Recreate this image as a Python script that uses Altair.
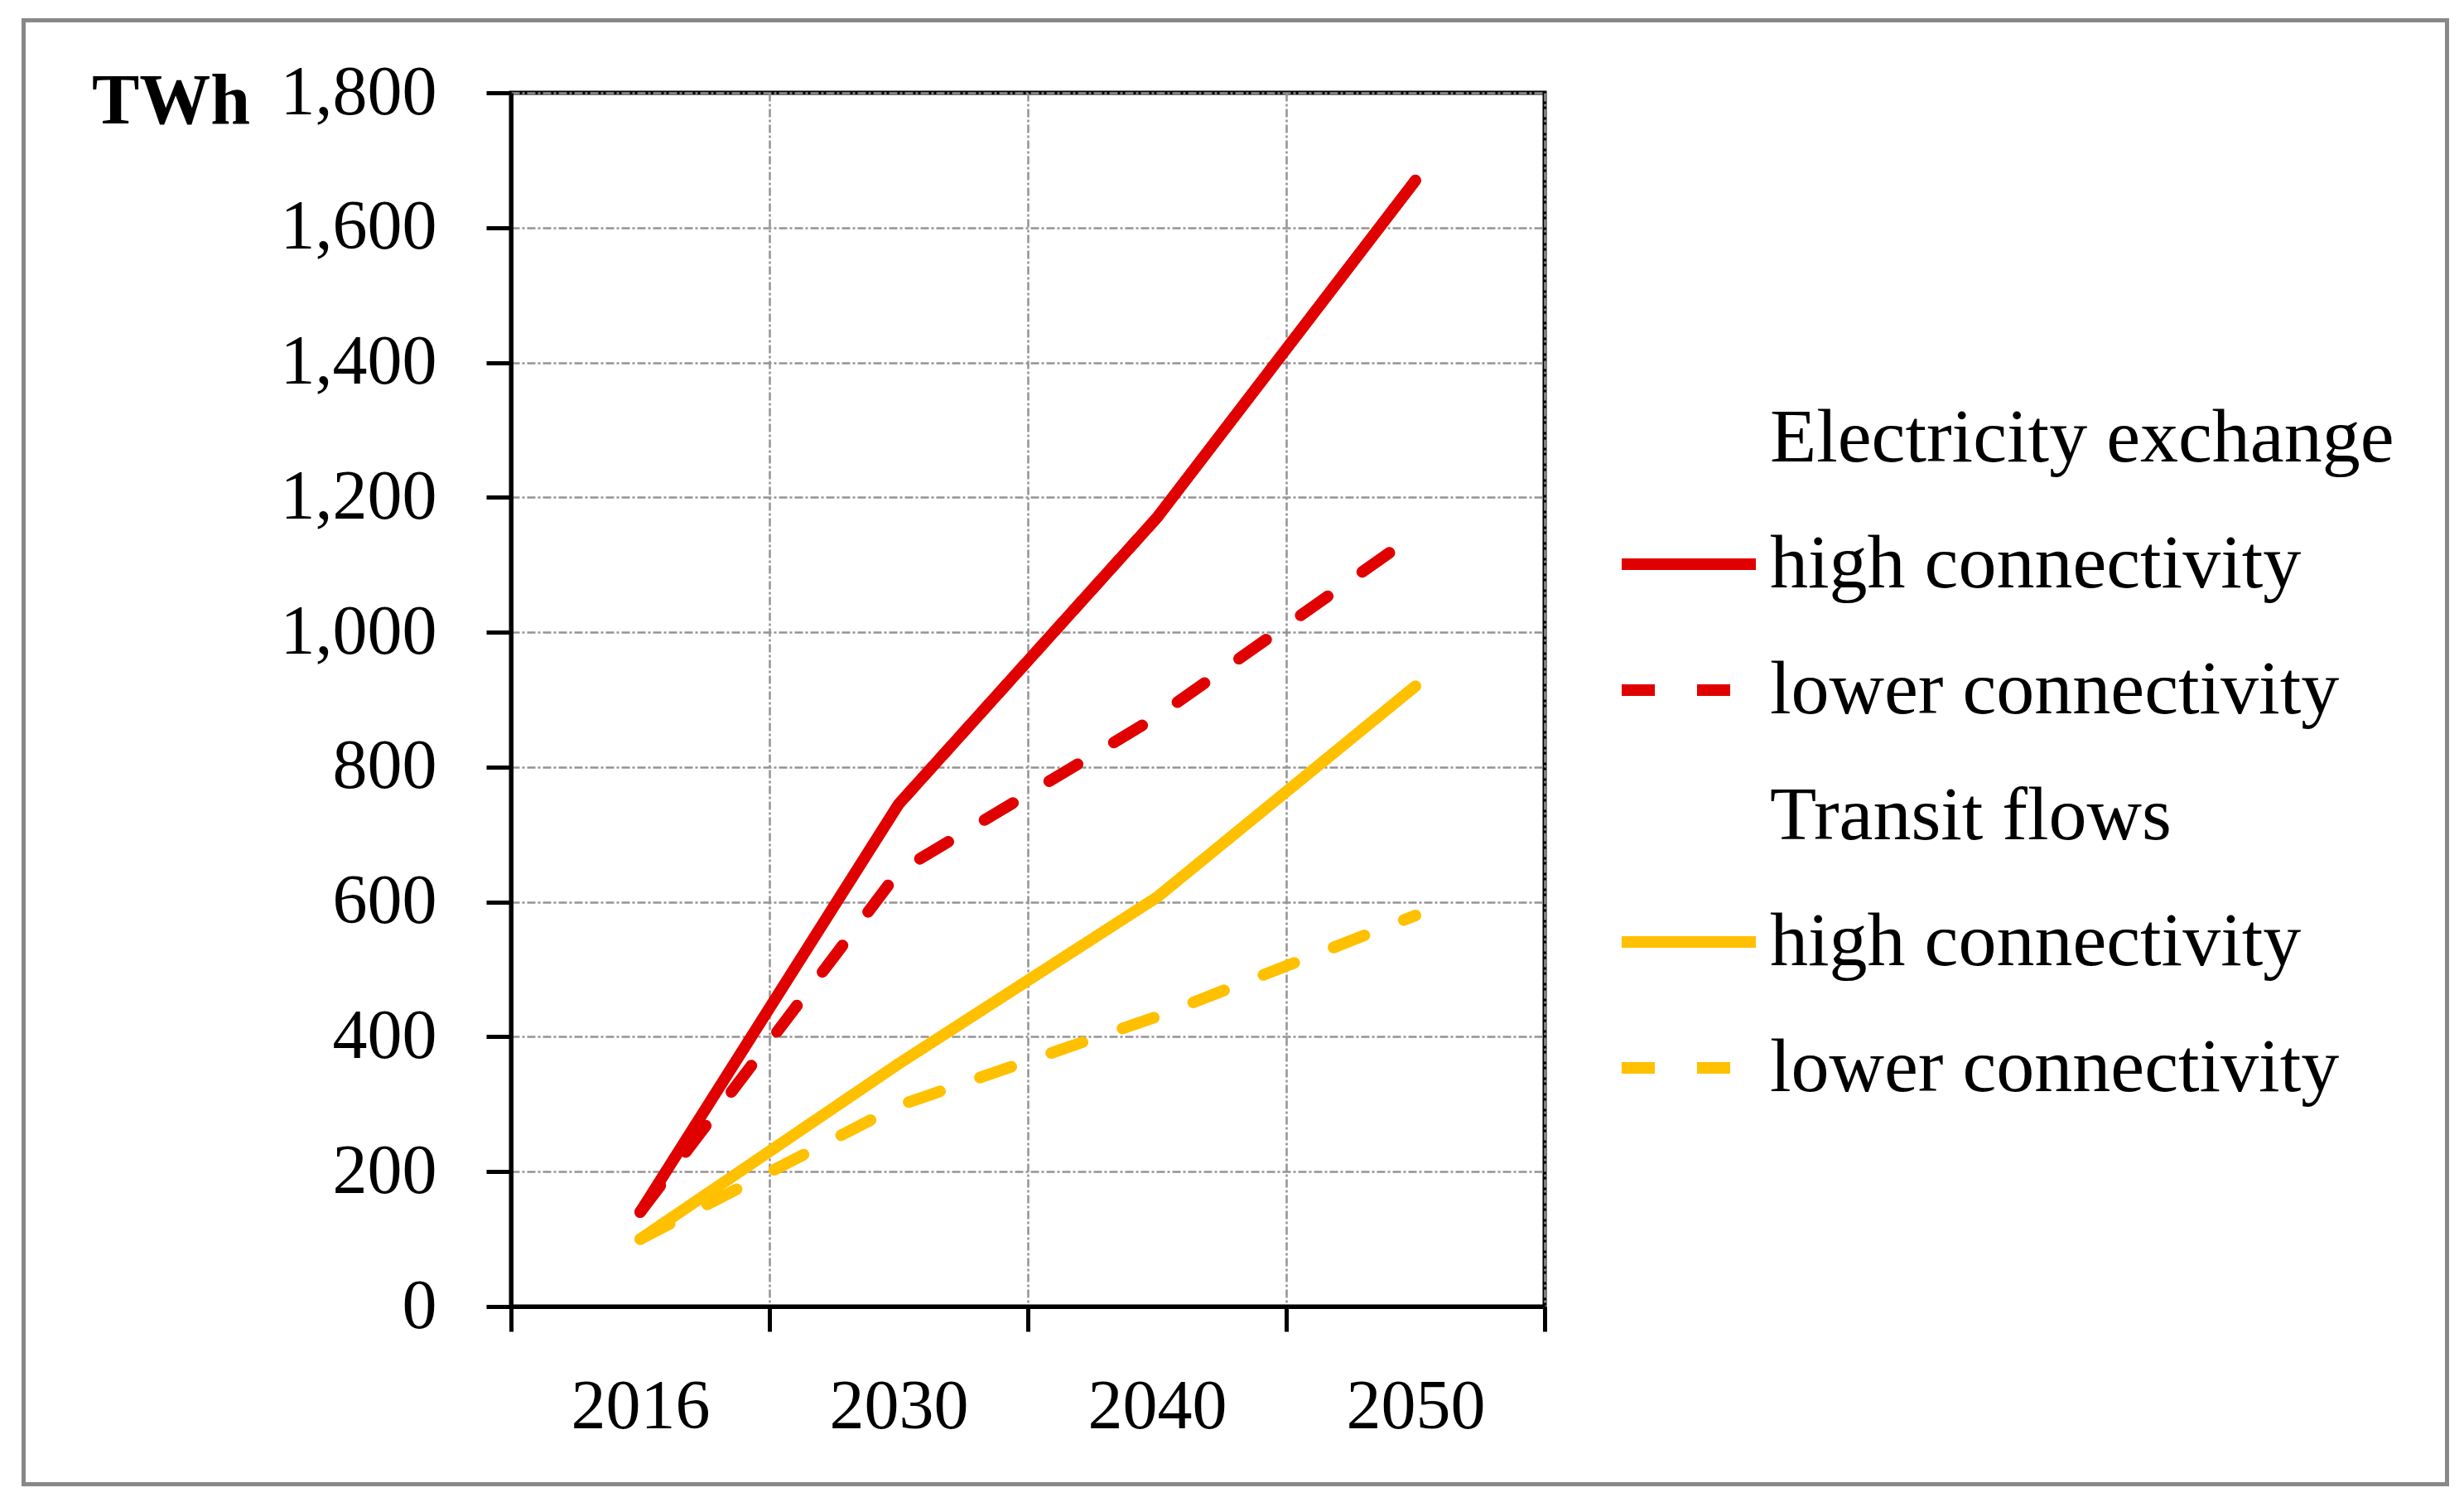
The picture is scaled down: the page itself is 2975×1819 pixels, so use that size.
import altair as alt
import pandas as pd

years = ["2016", "2030", "2040", "2050"]
ee_high = [140, 745, 1170, 1670]
ee_low = [140, 645, 875, 1145]
tf_high = [100, 360, 607, 920]
tf_low = [100, 298, 430, 580]

series_keys = ["EE", "EE_high", "EE_low", "TF", "TF_high", "TF_low"]
series_labels = ["Electricity exchange", "high connectivity", "lower connectivity",
                 "Transit flows", "high connectivity", "lower connectivity"]
series_colors = ["transparent", "#E00000", "#E00000", "transparent", "#FFC000", "#FFC000"]
series_dash = [[1, 0], [1, 0], [40, 51], [1, 0], [1, 0], [40, 51]]

rows = []
for key, vals in [("EE_high", ee_high), ("EE_low", ee_low), ("TF_high", tf_high), ("TF_low", tf_low)]:
    for y, v in zip(years, vals):
        rows.append({"year": y, "value": v, "series": key})
df = pd.DataFrame(rows)

label_expr = " : ".join(
    f"datum.value == '{k}' ? '{l}'" for k, l in zip(series_keys, series_labels)
) + " : ''"

FONT = "Liberation Serif"
W, H = 1248, 1465
GRID = "#949494"


def make_legend():
    return alt.Legend(title=None, orient="none", legendX=1334, legendY=329,
                      labelExpr=label_expr, labelFont=FONT, labelFontSize=92,
                      labelColor="black", labelOffset=10, labelLimit=2000,
                      symbolSize=162 * 162, symbolStrokeWidth=14,
                      rowPadding=18, padding=0)


lines = alt.Chart(df).mark_line(strokeWidth=14, strokeCap="round").encode(
    x=alt.X("year:O", bandPosition=0.5,
            scale=alt.Scale(type="band", domain=years, paddingInner=0, paddingOuter=0),
            axis=alt.Axis(title=None, tickBand="extent", labelAngle=0, labelFont=FONT,
                          labelFontSize=84, labelColor="black", labelPadding=50,
                          labelLimit=1000,
                          tickSize=30, tickWidth=5, tickColor="black",
                          domainColor="black", domainWidth=5,
                          grid=True, gridColor=GRID, gridWidth=2.5, gridDash=[10, 3, 3, 3])),
    y=alt.Y("value:Q",
            scale=alt.Scale(domain=[0, 1800], nice=False),
            axis=alt.Axis(title="TWh", titleAngle=0, titleX=-411, titleY=36,
                          titleAlign="center", titleBaseline="alphabetic",
                          titleFont=FONT, titleFontSize=86, titleFontWeight="bold",
                          titleColor="black",
                          values=list(range(0, 1801, 200)), format=",d",
                          labelFont=FONT, labelFontSize=84, labelColor="black",
                          labelLimit=1000,
                          labelPadding=60, tickSize=30, tickWidth=5, tickColor="black",
                          domainColor="black", domainWidth=5,
                          grid=True, gridColor=GRID, gridWidth=2.5, gridDash=[10, 3, 3, 3])),
    color=alt.Color("series:N",
                    scale=alt.Scale(domain=series_keys, range=series_colors),
                    legend=make_legend()),
    strokeDash=alt.StrokeDash("series:N",
                              scale=alt.Scale(domain=series_keys, range=series_dash),
                              legend=make_legend()),
    detail="series:N",
)

frame = alt.Chart(pd.DataFrame({"a": [0]})).mark_rect(
    filled=False, stroke="#888888", strokeWidth=5
).encode(
    x=alt.value(-588.5), x2=alt.value(2337.5),
    y=alt.value(-87.5), y2=alt.value(1679.5),
)

chart = alt.layer(frame, lines).properties(
    width=W, height=H,
    autosize=alt.AutoSizeParams(type="none"),
    padding={"left": 609, "top": 104, "right": 1100, "bottom": 232},
    background="white",
).configure_view(stroke="black", strokeWidth=5)

chart.save("out.html", embed_options={"renderer": "svg", "actions": False})
